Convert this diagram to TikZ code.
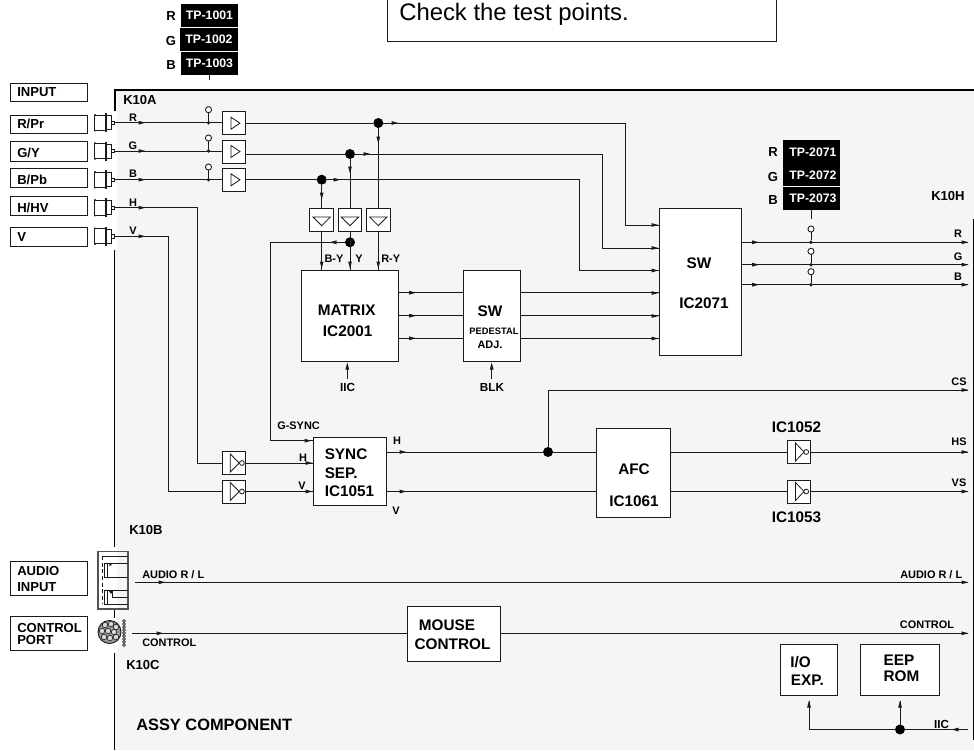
\documentclass[tikz,border=0pt]{standalone}
\usepackage{fontspec}
\setmainfont{Liberation Sans}
\definecolor{panel}{HTML}{F5F5F5}
\definecolor{ink}{HTML}{1A1A1A}
\newcommand{\tipr}[2]{\fill[ink] (#1+3.5,#2) -- (#1-3.5,#2-1.9) -- (#1-3.5,#2+1.9) -- cycle;}
\newcommand{\tipl}[2]{\fill[ink] (#1-3.5,#2) -- (#1+3.5,#2-1.9) -- (#1+3.5,#2+1.9) -- cycle;}
\newcommand{\tipd}[2]{\fill[ink] (#1,#2+3.5) -- (#1-1.9,#2-3.5) -- (#1+1.9,#2-3.5) -- cycle;}
\newcommand{\tipu}[2]{\fill[ink] (#1,#2-3.5) -- (#1-1.9,#2+3.5) -- (#1+1.9,#2+3.5) -- cycle;}
\tikzset{
  wire/.style={draw=ink,line width=0.72pt},
  boxn/.style 2 args={draw=ink,line width=0.72pt,fill=white,inner sep=0pt,outer sep=0pt,
     minimum width=#1*0.75pt,minimum height=#2*0.75pt},
  tpbox/.style 2 args={fill=black,text=white,inner sep=0pt,outer sep=0pt,
     minimum width=#1*0.75pt,minimum height=#2*0.75pt,
     font=\bfseries\fontsize{9.2}{10}\selectfont},
  big/.style={inner sep=0pt,font=\bfseries\fontsize{11.5}{13}\selectfont},
  mid/.style={inner sep=0pt,font=\bfseries\fontsize{9.8}{11}\selectfont},
  small/.style={inner sep=0pt,font=\bfseries\fontsize{8.2}{9}\selectfont},
  lft/.style={anchor=west},
  junct/.style={circle,fill=black,inner sep=0pt,outer sep=0pt,minimum size=7.5pt},
  tdot/.style={circle,fill=ink,inner sep=0pt,outer sep=0pt,minimum size=2.8pt},
  topen/.style={circle,draw=ink,line width=0.65pt,fill=white,inner sep=0pt,outer sep=0pt,minimum size=4.6pt},
  glyph/.style={draw=ink,line width=0.6pt,fill=none},
}
\begin{document}
\begin{tikzpicture}[x=0.75pt,y=-0.75pt]
\useasboundingbox (0,0) rectangle (974,750);
% panel
\fill[panel] (115,90) rectangle (974,750);
\fill[white] (114,91.5) rectangle (117,250);
\fill[white] (114,547) rectangle (117,652);
\draw[black,line width=1.5pt] (114.5,111) -- (114.5,90) -- (974,90);
\draw[black,line width=1.3pt] (114.5,250) -- (114.5,547);
\draw[black,line width=1.3pt] (114.5,610) -- (114.5,618);
\draw[black,line width=1.3pt] (114.5,653) -- (114.5,750);
\draw[black,line width=1pt] (973.4,219) -- (973.4,740);

% top note
\node[boxn={389}{60},anchor=south west] (note) at (387,41.5) {};
\node[inner sep=0pt,anchor=base west,font=\fontsize{17.9}{20}\selectfont] (notet) at (399,20) {Check the test points.};

% test point boxes, left
\node[tpbox={57}{23}] (tp1) at (209.5,15.5) {TP-1001};
\node[tpbox={58}{23}] (tp2) at (209,39.5) {TP-1002};
\node[tpbox={57}{23}] (tp3) at (209.5,63.5) {TP-1003};
\node[mid] (tpr1) at (171,16.5) {R};
\node[mid] (tpg1) at (171,41) {G};
\node[mid] (tpb1) at (171,65) {B};
\coordinate (tp1end) at (209.5,80);
\draw[wire] (tp3.south) -- (tp1end);

% input labels
\node[boxn={76.5}{18.5}] (bIN) at (48.75,92.25) {};
\node[boxn={76.5}{18.5}] (bR) at (48.75,124.25) {};
\node[boxn={76.5}{19.5}] (bG) at (48.75,151.25) {};
\node[boxn={76.5}{19}] (bB) at (48.75,177.5) {};
\node[boxn={76.5}{19}] (bH) at (48.75,206) {};
\node[boxn={76.5}{19}] (bV) at (48.75,237) {};
\node[mid,lft] (tIN) at (17,92.5) {INPUT};
\node[mid,lft] (tR) at (17,123.5) {R/Pr};
\node[mid,lft] (tG) at (17,153) {G/Y};
\node[mid,lft] (tB) at (17,179.5) {B/Pb};
\node[mid,lft] (tH) at (17,208) {H/HV};
\node[mid,lft] (tV) at (17,237) {V};
\node[boxn={76.5}{34.5}] (bAU) at (48.75,578.25) {};
\node[mid,lft] (tAU1) at (17,570.5) {AUDIO};
\node[mid,lft] (tAU2) at (17,587) {INPUT};
\node[boxn={76.5}{34.5}] (bCP) at (48.75,633.25) {};
\node[mid,lft] (tCP1) at (17,627.5) {CONTROL};
\node[mid,lft] (tCP2) at (17,640) {PORT};

% jacks
\foreach \yy in {122.7,151,179.7,207.7,236.3}{
  \draw[ink,line width=0.7pt] (106,\yy-7.5) -- (94.5,\yy-7.5) -- (94.5,\yy+7.5) -- (106,\yy+7.5);
  \draw[ink,line width=1.1pt] (106,\yy-9.5) -- (106,\yy+9.5);
  \draw[ink,line width=0.7pt] (106,\yy-7) -- (111,\yy-7) -- (111,\yy+7) -- (106,\yy+7);
  \draw[ink,line width=0.6pt] (111,\yy-1.8) rectangle (114,\yy+1.8);
  \fill[ink] (95,\yy-8) circle (0.9);
  \fill[ink] (95,\yy+8) circle (0.9);
}
\coordinate (jR) at (114,122.7);
\coordinate (jG) at (114,151);
\coordinate (jB) at (114,179.7);
\coordinate (jH) at (114,207.7);
\coordinate (jV) at (114,236.3);
\node[small] (lR) at (133,118) {R};
\node[small] (lG) at (133,146) {G};
\node[small] (lB) at (133,174) {B};
\node[small] (lH) at (133,203) {H};
\node[small] (lV) at (133,231) {V};

% amplifiers
\node[boxn={23}{23}] (aR) at (233.8,123.2) {};
\node[boxn={23}{23}] (aG) at (233.8,151.5) {};
\node[boxn={23}{23}] (aB) at (233.8,179.8) {};
\foreach \yy in {123.2,151.5,179.8}{
  \draw[glyph] (231,\yy-6) -- (240,\yy) -- (231,\yy+6) -- cycle;
}
\draw[wire] (jR) -- (aR.west |- jR);
\draw[wire] (jG) -- (aG.west |- jG);
\draw[wire] (jB) -- (aB.west |- jB);
\foreach \yy in {122.7,151,179.7,207.7,236.3}{\tipr{142}{\yy}}

% input test points
\node[topen] (oR) at (208.5,109.7) {};
\node[topen] (oG) at (208.5,138) {};
\node[topen] (oB) at (208.5,167) {};
\node[tdot] (dR) at (208.5,122.7) {};
\node[tdot] (dG) at (208.5,151) {};
\node[tdot] (dB) at (208.5,179.7) {};
\draw[wire] (oR) -- (dR);
\draw[wire] (oG) -- (dG);
\draw[wire] (oB) -- (dB);

% matrix
\node[boxn={96.6}{91}] (mx) at (350,315.8) {};
\node[big] (mxa) at (346.7,310.7) {MATRIX};
\node[big] (mxb) at (347.7,331.7) {IC2001};
\node[boxn={56.7}{91}] (sw1) at (491.7,315.8) {};
\node[big] (swa) at (490,311.7) {SW};
\node[inner sep=0pt,font=\bfseries\fontsize{7}{8}\selectfont] (swb) at (494,331.7) {PEDESTAL};
\node[inner sep=0pt,font=\bfseries\fontsize{8.2}{9}\selectfont] (swc) at (490,345) {ADJ.};
\node[boxn={82}{147.5}] (sw2) at (700,281.8) {};
\node[big] (sw2a) at (699,263.5) {SW};
\node[big] (sw2b) at (704,303) {IC2071};

% rails
\node[junct] (nR) at (378.3,123) {};
\node[junct] (nG) at (350,154) {};
\node[junct] (nB) at (321.7,179.7) {};
\coordinate (cR1) at (625,123);
\coordinate (cR2) at (625,225);
\coordinate (cG1) at (602,154);
\coordinate (cG2) at (602,248);
\coordinate (cB1) at (579.5,179.7);
\coordinate (cB2) at (579.5,270.5);
\draw[wire] (aR.east |- nR) -- (nR) -- (cR1) -- (cR2) -- (sw2.west |- cR2);
\draw[wire] (aG.east |- nG) -- (nG) -- (cG1) -- (cG2) -- (sw2.west |- cG2);
\draw[wire] (aB.east |- nB) -- (nB) -- (cB1) -- (cB2) -- (sw2.west |- cB2);
\tipr{395}{123}\tipr{367}{154}\tipr{337}{179.7}
\tipr{655}{225}\tipr{655}{248}\tipr{655}{270.5}\tipr{655}{293}\tipr{655}{316}\tipr{655}{338.5}

% difference amps
\node[boxn={23.5}{23}] (dB1) at (321.7,219.5) {};
\node[boxn={23.5}{23}] (dG1) at (350,219.5) {};
\node[boxn={23.5}{23}] (dR1) at (378.3,219.5) {};
\foreach \xx in {321.7,350,378.3}{
  \draw[glyph] (\xx-8.7,217) -- (\xx+8.7,217) -- (\xx,225.7) -- cycle;
}
\draw[wire] (nR) -- (dR1);
\draw[wire] (nG) -- (dG1);
\draw[wire] (nB) -- (dB1);
\tipd{378.3}{140}\tipd{350}{170}\tipd{321.7}{196}
\node[junct] (nY) at (350,242.3) {};
\draw[wire] (dB1) -- (mx.north -| dB1);
\draw[wire] (dG1) -- (mx.north -| dG1);
\draw[wire] (dR1) -- (mx.north -| dR1);
\tipd{321.7}{265}\tipd{350}{265}\tipd{378.3}{265}
\node[small] (tBY) at (334,259) {B-Y};
\node[small] (tYY) at (359,259) {Y};
\node[small] (tRY) at (390.7,259) {R-Y};

% matrix to SW to SW
\coordinate (m1) at (398,292.7);
\coordinate (m2) at (398,315.7);
\coordinate (m3) at (398,338.3);
\draw[wire] (m1) -- (sw1.west |- m1);
\draw[wire] (m2) -- (sw1.west |- m2);
\draw[wire] (m3) -- (sw1.west |- m3);
\draw[wire] (sw1.east |- m1) -- (sw2.west |- m1);
\draw[wire] (sw1.east |- m2) -- (sw2.west |- m2);
\draw[wire] (sw1.east |- m3) -- (sw2.west |- m3);
\tipr{412.7}{292.7}\tipr{412.7}{315.7}\tipr{412.7}{338.3}

% IIC, BLK
\node[small,font=\bfseries\fontsize{8.8}{10}\selectfont] (tIIC) at (347.5,387.6) {IIC};
\node[small,font=\bfseries\fontsize{8.8}{10}\selectfont] (tBLK) at (492,387.6) {BLK};
\coordinate (iic0) at (347.3,379);
\coordinate (iic1) at (347.3,364);
\coordinate (blk0) at (491.7,379);
\coordinate (blk1) at (491.7,364);
\draw[wire] (iic0) -- (iic1);
\draw[wire] (blk0) -- (blk1);
\tipu{347.3}{366}\tipu{491.7}{366}

% test points right
\node[tpbox={57}{46}] (tpb) at (811.5,163) {};
\node[inner sep=0pt,text=white,font=\bfseries\fontsize{9.2}{10}\selectfont] (tp21) at (813,152.5) {TP-2071};
\node[inner sep=0pt,text=white,font=\bfseries\fontsize{9.2}{10}\selectfont] (tp22) at (813,175.5) {TP-2072};
\node[tpbox={57}{23}] (tp23) at (811.5,198.5) {\hspace*{2.2pt}TP-2073};
\node[mid] (tpr2) at (773,152) {R};
\node[mid] (tpg2) at (773,176.5) {G};
\node[mid] (tpb2) at (773,200) {B};
\coordinate (tp2end) at (811.5,219);
\draw[wire] (tp23.south) -- (tp2end);
\node[mid,lft] (k10h) at (931,196) {K10H};
\coordinate (o1) at (968,242.3);
\coordinate (o2) at (968,264.7);
\coordinate (o3) at (968,284.7);
\draw[wire] (sw2.east |- o1) -- (o1);
\draw[wire] (sw2.east |- o2) -- (o2);
\draw[wire] (sw2.east |- o3) -- (o3);
\tipr{755.7}{242.3}\tipr{755.7}{264.7}\tipr{755.7}{284.7}
\tipr{965}{242.3}\tipr{965}{264.7}\tipr{965}{284.7}
\node[small] (or) at (958,234) {R};
\node[small] (og) at (958,257) {G};
\node[small] (ob) at (958,277) {B};
\node[topen] (oR2) at (811,229) {};
\node[topen] (oG2) at (811,251.3) {};
\node[topen] (oB2) at (811,271.7) {};
\node[tdot] (dR2) at (811,242.3) {};
\node[tdot] (dG2) at (811,264.7) {};
\node[tdot] (dB2) at (811,284.7) {};
\draw[wire] (oR2) -- (dR2);
\draw[wire] (oG2) -- (dG2);
\draw[wire] (oB2) -- (dB2);

% sync section
\node[boxn={73.7}{68}] (sy) at (349.9,471.7) {};
\node[big,lft] (sya) at (324.5,454) {SYNC};
\node[big,lft] (syb) at (324.5,473) {SEP.};
\node[big,lft] (syc) at (324.5,491.5) {IC1051};
\node[boxn={23}{23}] (iH) at (233.8,463) {};
\node[boxn={23}{23}] (iV) at (233.8,491.5) {};
\foreach \yy in {463,491.5}{
  \draw[glyph] (230.3,\yy-9) -- (239.3,\yy) -- (230.3,\yy+9) -- cycle;
  \draw[glyph,fill=white] (241.9,\yy) circle (2.4);
}
\coordinate (cH) at (197,207.7);
\coordinate (cHb) at (197,463);
\coordinate (cV) at (168.3,236.3);
\coordinate (cVb) at (168.3,491.5);
\draw[wire] (jH) -- (cH) -- (cHb) -- (iH.west);
\draw[wire] (jV) -- (cV) -- (cVb) -- (iV.west);
\draw[wire] (iH.east) -- (sy.west |- iH.east);
\draw[wire] (iV.east) -- (sy.west |- iV.east);
\tipr{309}{463}\tipr{309}{491.5}\tipr{308}{440.7}
\node[small] (sH) at (303,458) {H};
\node[small] (sV) at (302,486) {V};
\coordinate (cGa) at (270.7,242.3);
\coordinate (cGb) at (270.7,440.7);
\draw[wire] (nY) -- (cGa) -- (cGb) -- (sy.west |- cGb);
\tipl{333}{242.3}
\node[small,lft] (gs) at (277,426) {G-SYNC};
\node[small] (sH2) at (397,441) {H};
\node[small] (sV2) at (396,511) {V};
\tipr{403}{452}\tipr{403}{491.5}

% AFC
\node[boxn={74}{89}] (afc) at (633,472.5) {};
\node[big] (afca) at (634,469.3) {AFC};
\node[big] (afcb) at (634,501.7) {IC1061};
\node[junct] (nH) at (548,452) {};
\coordinate (hL) at (387,452);
\coordinate (vL) at (387,491.5);
\draw[wire] (hL) -- (nH) -- (afc.west |- nH);
\draw[wire] (vL) -- (afc.west |- vL);
\coordinate (csa) at (548,390);
\coordinate (csb) at (968,390);
\draw[wire] (nH) -- (csa) -- (csb);
\tipr{965}{390}
\node[small] (csl) at (959,381.5) {CS};

% IC1052/3
\node[boxn={23}{23}] (i52) at (798.5,452) {};
\node[boxn={23}{23}] (i53) at (798.5,491.5) {};
\foreach \yy in {452,491.5}{
  \draw[glyph] (795.5,\yy-9) -- (804,\yy) -- (795.5,\yy+9) -- cycle;
  \draw[glyph,fill=white] (806.2,\yy) circle (2.4);
}
\coordinate (hsE) at (968,452);
\coordinate (vsE) at (968,491.5);
\draw[wire] (afc.east |- hsE) -- (i52.west);
\draw[wire] (afc.east |- vsE) -- (i53.west);
\draw[wire] (i52.east) -- (hsE);
\draw[wire] (i53.east) -- (vsE);
\tipr{965}{452}\tipr{965}{491.5}
\node[small] (hsl) at (959,442) {HS};
\node[small] (vsl) at (959,483) {VS};
\node[big] (t52) at (796.5,427.5) {IC1052};
\node[big] (t53) at (796.5,517.5) {IC1053};

% K labels
\node[mid,lft] (k10a) at (123,100) {K10A};
\node[mid,lft] (k10b) at (129,529.5) {K10B};
\node[mid,lft] (k10c) at (126,665) {K10C};
\node[inner sep=0pt,anchor=west,font=\bfseries\fontsize{12.3}{14}\selectfont] (assy) at (136,725) {ASSY COMPONENT};

% audio connector
\draw[draw=ink!75,line width=0.9pt] (98,551.5) rectangle (128,609);
\draw[ink,line width=0.55pt,densely dashed] (102,556) -- (102,603);
\draw[ink,line width=0.55pt] (102,556) -- (128,556);
\draw[ink,line width=0.7pt] (104.3,563) rectangle (107.7,577);
\draw[ink,line width=0.6pt] (107.7,563) -- (128,563) (107.7,577) -- (128,577);
\fill[ink] (110,563) -- (112,565) -- (109,566) -- cycle;
\draw[ink,line width=0.7pt] (104.3,590) rectangle (107.7,604);
\draw[ink,line width=0.6pt] (107.7,590) -- (128,590) (107.7,604) -- (128,604);
\draw[ink,line width=0.6pt] (112,590) -- (112,597) -- (128,597);
\fill[ink] (109,591) -- (113,591) -- (111,594) -- cycle;
\coordinate (auA) at (135,582.3);
\coordinate (auB) at (968,582.3);
\draw[wire] (auA) -- (auB);
\tipr{162}{582.3}\tipr{965}{582.3}
\node[small,lft] (aul) at (142,574.5) {AUDIO R / L};
\node[small,lft] (aur) at (900,574.5) {AUDIO R / L};

% control connector
\draw[ink,line width=0.7pt,fill=ink!45] (109.5,632) circle (11.5);
\foreach \xx/\yy in {105/625,111/624,116/627,102/631,108/631,114/632,104/637,110/638,116/637}{
  \draw[ink,line width=0.45pt,fill=white!85!black] (\xx,\yy) circle (2.7);
}
\foreach \yy in {621,624,627,630,633,636,639,642,645}{
  \draw[ink,line width=0.4pt,fill=ink!30] (124,\yy) circle (1.6);
}
\node[boxn={93.5}{55}] (mouse) at (453.75,633.5) {};
\node[big] (ma) at (447,625) {MOUSE};
\node[big] (mb) at (452.5,644) {CONTROL};
\coordinate (ctA) at (132,633.3);
\coordinate (ctB) at (968,633.3);
\draw[wire] (ctA) -- (mouse.west |- ctA);
\draw[wire] (mouse.east |- ctB) -- (ctB);
\tipr{160}{633.3}\tipr{965}{633.3}
\node[small,lft] (ctl) at (142,643) {CONTROL};
\node[small,lft] (ctr) at (899.7,625) {CONTROL};

% I/O, EEP
\node[boxn={56.6}{51.4}] (io) at (809,670) {};
\node[big,lft] (ioa) at (790,662) {I/O};
\node[big,lft] (iob) at (790.7,680) {EXP.};
\node[boxn={79.7}{51.4}] (eep) at (899.85,670) {};
\node[big,lft] (eepa) at (883.3,660) {EEP};
\node[big,lft] (eepb) at (883.3,676) {ROM};
\node[junct] (nI) at (900,729.5) {};
\coordinate (iE) at (968,729.5);
\coordinate (iC) at (809,729.5);
\coordinate (iU) at (809,701);
\coordinate (iU2) at (900,701);
\draw[wire] (iE) -- (nI) -- (iC) -- (iU);
\draw[wire] (nI) -- (iU2);
\tipu{809}{704}\tipu{900}{704}\tipl{955}{729.5}
\node[small,font=\bfseries\fontsize{8.8}{10}\selectfont] (iict) at (941.7,724) {IIC};
\end{tikzpicture}
\end{document}
